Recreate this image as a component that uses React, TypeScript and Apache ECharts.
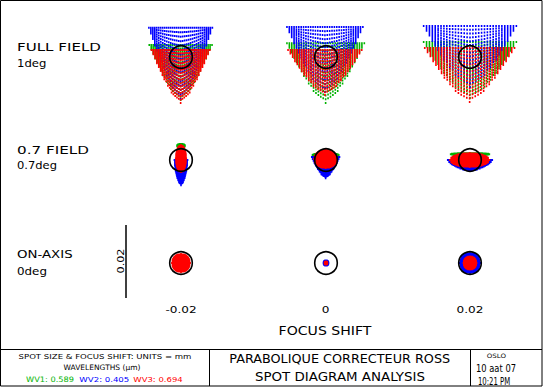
import React, { useEffect, useRef } from 'react';
import * as echarts from 'echarts';

// ---------- data ----------
const FIELD_LABELS = ['FULL FIELD', '0.7 FIELD', 'ON-AXIS'];
const FIELD_ANGLES = ['1deg', '0.7deg', '0deg'];
const FOCUS_SHIFTS = [-0.02, 0, 0.02];
const WAVELENGTHS = [0.589, 0.405, 0.694];
const WAVELENGTH_NAMES = ['WV1', 'WV2', 'WV3'];

// spot fits (µm), one entry per field (row) x focus shift (column):
// [x offset, y offset of base, half width, vertical spread, flare height, taper]
const SPOTS_WV1 = [
  [-0.1, -11.8, 8.6, 0, 15.1, 1], [-0.1, -12.6, 10.6, 0, 16.4, 1], [0, -11.2, 12.7, 0, 15.3, 1],
  [0, 3.9, 1.1, 0.5, 0, 0], [-0.1, 1.4, 3.6, 0.4, 0, 0], [0, 1.6, 5.3, 0.3, 0, 0],
  [0, 0, 2.3, 2.3, 0, 0], [0, 0, 0.3, 0.3, 0, 0], [0, 0, 2.5, 2.5, 0, 0],
];
const SPOTS_WV2 = [
  [-0.1, -11.5, 8.7, 0, 19.5, 1], [-0.3, -9.6, 10.4, 0, 17.8, 1], [0, -8.2, 12.7, 0, 16.7, 1],
  [0, -6.6, 1.8, 0.3, 6.6, 0.4], [-0.1, -4.7, 3.8, 0.3, 5.5, 1], [0, -2.7, 6.1, 0.3, 2.7, 0.6],
  [0, 0, 1.4, 1.4, 0, 0], [0, 0, 0.7, 0.7, 0, 0], [0, 0, 2.8, 2.8, 0, 0],
];
const SPOTS_WV3 = [
  [-0.1, -12.6, 8.0, 0, 14.5, 1], [-0.3, -10.4, 10.1, 0, 12.3, 1], [-0.1, -12.3, 12.3, 0, 14.8, 1],
  [0, 0.4, 1.45, 3.7, 0, 0], [-0.1, 0.3, 3.2, 2.5, 0, 0], [-0.1, 0, 5.4, 1.9, 0, 0],
  [0, 0, 2.5, 2.5, 0, 0], [0, 0, 0.4, 0.4, 0, 0], [0, 0, 1.8, 1.8, 0, 0],
];
const AIRY_RADIUS_UM = 3.1;
const SCALE_BAR_UM = 20;
const PUPIL_STEPS = 16;
const TAPER_EXP = 0.7;

// ---------- layout ----------
const W = 543;
const H = 387;
const PX_PER_UM = 3.65;
const ORIGIN = [326, 263];
const COL_X = [181, 326, 470];
const ROW_Y = [57, 160, 263];
const SCALE_BAR_PX = [126, 261.5];
const COLORS = ['#00b300', '#0000ff', '#ff0000'];
const FONT = 'DejaVu Sans';

const cellCenter = (r: number, c: number) => [
  (COL_X[c] - ORIGIN[0]) / PX_PER_UM,
  (ORIGIN[1] - ROW_Y[r]) / PX_PER_UM,
];

function spotPoints(spots: number[][]) {
  const pts: number[][] = [];
  const N = PUPIL_STEPS;
  spots.forEach((p, idx) => {
    const r = Math.floor(idx / 3);
    const c = idx % 3;
    const [cx, cy] = cellCenter(r, c);
    const [ox, oy, ax, ay, h, taper] = p;
    for (let i = -N; i <= N; i++) {
      for (let j = -N; j <= N; j++) {
        const u = i / N;
        const v = j / N;
        if (u * u + v * v > 1.0001) continue;
        const t = 1 - Math.abs(v);
        const rim = Math.sqrt(Math.max(0, 1 - u * u));
        const side = Math.pow(Math.abs(u), 1 / TAPER_EXP);
        const frac = rim > 1e-6 ? Math.min(1, Math.abs(v) / rim) : 0;
        const flare = side + (1 - side) * (1 - frac);
        const yf = (1 - taper) * t + taper * flare;
        pts.push([cx + ox + ax * u, cy + oy + ay * v + h * yf]);
      }
    }
  });
  return pts;
}

let measureCtx: CanvasRenderingContext2D | null = null;
function textWidth(text: string, size: number) {
  if (!measureCtx) measureCtx = document.createElement('canvas').getContext('2d');
  measureCtx!.font = `${size}px "${FONT}"`;
  return measureCtx!.measureText(text).width;
}

function fitText(
  text: string, x: number, y: number, size: number,
  opt: { width?: number; scale?: number; color?: string; align?: string; rotation?: number } = {}
) {
  const align = opt.align || 'center';
  const s = opt.width ? opt.width / textWidth(text, size) : opt.scale || 1;
  return {
    type: 'text',
    x, y,
    scaleX: s,
    rotation: opt.rotation || 0,
    silent: true,
    z: 100,
    style: {
      text,
      fontSize: size,
      fontFamily: FONT,
      fill: opt.color || '#000',
      align, textAlign: align,
      verticalAlign: 'middle', textVerticalAlign: 'middle',
    },
  };
}

export default function App() {
  const ref = useRef<HTMLDivElement>(null);
  useEffect(() => {
    const chart = echarts.init(ref.current!, null, { renderer: 'svg' });
    const spotSets = [SPOTS_WV1, SPOTS_WV2, SPOTS_WV3];
    const cells: number[][] = [];
    for (let r = 0; r < 3; r++) for (let c = 0; c < 3; c++) cells.push(cellCenter(r, c));
    const sbx = (SCALE_BAR_PX[0] - ORIGIN[0]) / PX_PER_UM;
    const sbc = (ORIGIN[1] - SCALE_BAR_PX[1]) / PX_PER_UM;

    chart.setOption({
      animation: false,
      grid: [
        { left: 0, top: 0, width: W, height: H },
        { left: COL_X[0], width: COL_X[2] - COL_X[0], top: 296, height: 4 },
      ],
      xAxis: [
        { type: 'value', gridIndex: 0, min: -ORIGIN[0] / PX_PER_UM, max: (W - ORIGIN[0]) / PX_PER_UM, show: false },
        { type: 'value', gridIndex: 1, min: FOCUS_SHIFTS[0], max: FOCUS_SHIFTS[2], interval: 0.02, show: false },
      ],
      yAxis: [
        { type: 'value', gridIndex: 0, min: -(H - ORIGIN[1]) / PX_PER_UM, max: ORIGIN[1] / PX_PER_UM, show: false },
        { type: 'value', gridIndex: 1, min: 0, max: 1, show: false },
      ],
      series: [
        ...spotSets.map((s, k) => ({
          type: 'scatter',
          name: WAVELENGTH_NAMES[k],
          xAxisIndex: 0, yAxisIndex: 0,
          data: spotPoints(s),
          symbol: 'rect',
          symbolSize: [1.6, 2],
          large: true,
          largeThreshold: 100,
          progressive: 0,
          silent: true,
          itemStyle: { color: COLORS[k], opacity: 1 },
          z: 2 + k,
        })),
        {
          type: 'custom',
          xAxisIndex: 0, yAxisIndex: 0,
          data: cells,
          silent: true,
          clip: false,
          z: 10,
          renderItem: (params: any, api: any) => {
            const p = api.coord([api.value(0), api.value(1)]);
            const r = api.size([AIRY_RADIUS_UM, 0])[0];
            return {
              type: 'circle',
              shape: { cx: p[0], cy: p[1], r },
              style: { fill: 'none', stroke: '#000', lineWidth: 1.6 },
            };
          },
        },
        {
          type: 'line',
          xAxisIndex: 0, yAxisIndex: 0,
          data: [[sbx, sbc - SCALE_BAR_UM / 2], [sbx, sbc + SCALE_BAR_UM / 2]],
          symbol: 'none',
          silent: true,
          lineStyle: { color: '#000', width: 1.5 },
          z: 10,
        },
      ],
    });

    const focusTexts = FOCUS_SHIFTS.map((f) => {
      const x = chart.convertToPixel({ xAxisIndex: 1 } as any, f) as unknown as number;
      const label = f === 0 ? '0' : (f < 0 ? '-' : '') + Math.abs(f).toFixed(2);
      return fitText(label, x, 310, 9.3, { scale: 1.3 });
    });

    const labelW = [[84, 29.4], [72, 40], [55.7, 30]];
    const labelY = [[47, 63], [150, 166], [254, 271]];
    const fieldTexts: any[] = [];
    FIELD_LABELS.forEach((t, i) => {
      fieldTexts.push(fitText(t, 17, labelY[i][0], 11, { width: labelW[i][0], align: 'left' }));
      fieldTexts.push(fitText(FIELD_ANGLES[i], 17, labelY[i][1], 11, { width: labelW[i][1], align: 'left' }));
    });

    const wvCenters = [50, 104.3, 158];
    const wvWidths = [48, 50, 49.4];
    const wvTexts = WAVELENGTHS.map((w, k) =>
      fitText(`${WAVELENGTH_NAMES[k]}: ${w.toFixed(3)}`, wvCenters[k], 380, 7.5, { width: wvWidths[k], color: COLORS[k] })
    );

    const line = (x1: number, y1: number, x2: number, y2: number) => ({
      type: 'line', silent: true, z: 100,
      shape: { x1, y1, x2, y2 },
      style: { stroke: '#000', lineWidth: 1 },
    });

    chart.setOption({
      graphic: [
        {
          type: 'rect', silent: true, z: 100,
          shape: { x: 0.5, y: 0.5, width: 541.5, height: 385.5 },
          style: { fill: 'none', stroke: '#000', lineWidth: 1 },
        },
        line(0, 349.5, 542, 349.5),
        line(209.5, 349.5, 209.5, 386),
        line(470.5, 349.5, 470.5, 386),
        ...fieldTexts,
        ...focusTexts,
        fitText('FOCUS SHIFT', 325, 331, 11.5, { width: 93 }),
        fitText(String(SCALE_BAR_UM / 1000), 121, 261, 8, { width: 25, rotation: Math.PI / 2 }),
        fitText('SPOT SIZE & FOCUS SHIFT: UNITS = mm', 105, 356.7, 7.5, { width: 173 }),
        fitText('WAVELENGTHS (\u00b5m)', 102, 368, 7.5, { width: 77 }),
        ...wvTexts,
        fitText('PARABOLIQUE CORRECTEUR ROSS', 339.7, 358.7, 12.7, { width: 220.7 }),
        fitText('SPOT DIAGRAM ANALYSIS', 340, 376.3, 12.7, { width: 170 }),
        fitText('OSLO', 496.3, 356.2, 6, { width: 19.3 }),
        fitText('10 aat 07', 496, 368, 10.5, { width: 40 }),
        fitText('10:21 PM', 494, 381.2, 10.5, { width: 32.3 }),
      ],
    });

    return () => chart.dispose();
  }, []);

  return (
    <div
      ref={ref}
      style={{ position: 'fixed', left: 0, top: 0, width: W, height: H, background: '#fff' }}
    />
  );
}
